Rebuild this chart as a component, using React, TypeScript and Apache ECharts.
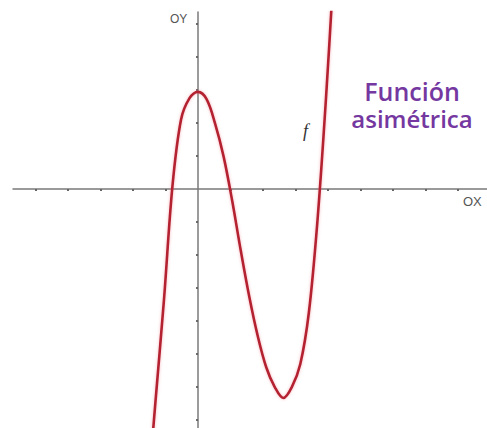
import React, { useEffect, useRef } from "react";
import * as echarts from "echarts";

// Points read along the curve f (x in axis units, y in axis units)
const curveX = [-1.575, -1.3125, -1.05, -0.7875, -0.525, -0.2625, 0, 0.2625, 0.525, 0.7875, 1.05, 1.3125, 1.575, 1.8375, 2.1, 2.3625, 2.625, 2.8875, 3.15, 3.4125, 3.675, 3.9375, 4.2];
const curveY = [-9.6, -6.45, -3.36, 0.1, 2.1, 2.75, 2.94, 2.72, 1.98, 0.98, -0.35, -1.85, -3.25, -4.45, -5.4, -6.0, -6.33, -6.0, -5.3, -3.75, -1.0, 2.7, 7.0];

const xTicks = [-5, -4, -3, -2, -1, 1, 2, 3, 4, 5, 6, 7, 8];
const yTicks = [-7, -6, -5, -4, -3, -2, -1, 1, 2, 3, 4, 5];

const titleLines = ["Función", "asimétrica"];
const xName = "OX";
const yName = "OY";
const curveName = "f";

export default function App() {
  const ref = useRef<HTMLDivElement>(null);
  useEffect(() => {
    if (!ref.current) return;
    const chart = echarts.init(ref.current, undefined, { renderer: "svg" });
    const axisColor = "#7a7a7a";
    chart.setOption({
      animation: false,
      grid: { left: 13, right: 0, top: 12, bottom: 0 },
      xAxis: {
        type: "value",
        min: -5.7,
        max: 8.9,
        splitLine: { show: false },
        axisLine: { onZero: true, lineStyle: { color: axisColor, width: 1.5 } },
        axisTick: { show: true, customValues: xTicks, length: 2, lineStyle: { color: "#666", width: 2 } },
        axisLabel: { show: false },
      },
      yAxis: {
        type: "value",
        min: -7.24,
        max: 5.36,
        splitLine: { show: false },
        axisLine: { onZero: true, lineStyle: { color: axisColor, width: 1.5 } },
        axisTick: { show: true, customValues: yTicks, length: 2, lineStyle: { color: "#666", width: 2 } },
        axisLabel: { show: false },
      },
      series: [
        {
          type: "line",
          name: curveName,
          data: curveX.map((x, i) => [x, curveY[i]]),
          smooth: 0.35,
          showSymbol: false,
          clip: true,
          lineStyle: {
            color: "#b42330",
            width: 2.6,
            shadowColor: "rgba(235,90,110,0.45)",
            shadowBlur: 3,
          },
        },
      ],
      graphic: [
        {
          type: "text",
          left: 170,
          top: 13,
          style: { text: yName, fill: "#555", font: '12px "Liberation Sans", Arial, sans-serif' },
        },
        {
          type: "text",
          left: 463,
          top: 195,
          style: { text: xName, fill: "#555", font: '13px "Liberation Sans", Arial, sans-serif' },
        },
        {
          type: "text",
          left: 303,
          top: 122,
          style: { text: curveName, fill: "#333", font: 'italic 18px "Liberation Serif", serif' },
        },
        {
          type: "text",
          x: 412,
          y: 79,
          style: {
            text: titleLines[0],
            fill: "#7438a0",
            font: '600 25px "Open Sans", sans-serif',
            align: "center",
            lineHeight: 24,
          },
        },
        {
          type: "text",
          x: 412,
          y: 106,
          style: {
            text: titleLines[1],
            fill: "#7438a0",
            font: '600 24px "Open Sans", sans-serif',
            align: "center",
            lineHeight: 24,
          },
        },
      ],
    });
    return () => chart.dispose();
  }, []);
  return (
    <div
      ref={ref}
      style={{ position: "fixed", left: 0, top: 0, width: 487, height: 428, background: "#fff" }}
    />
  );
}
